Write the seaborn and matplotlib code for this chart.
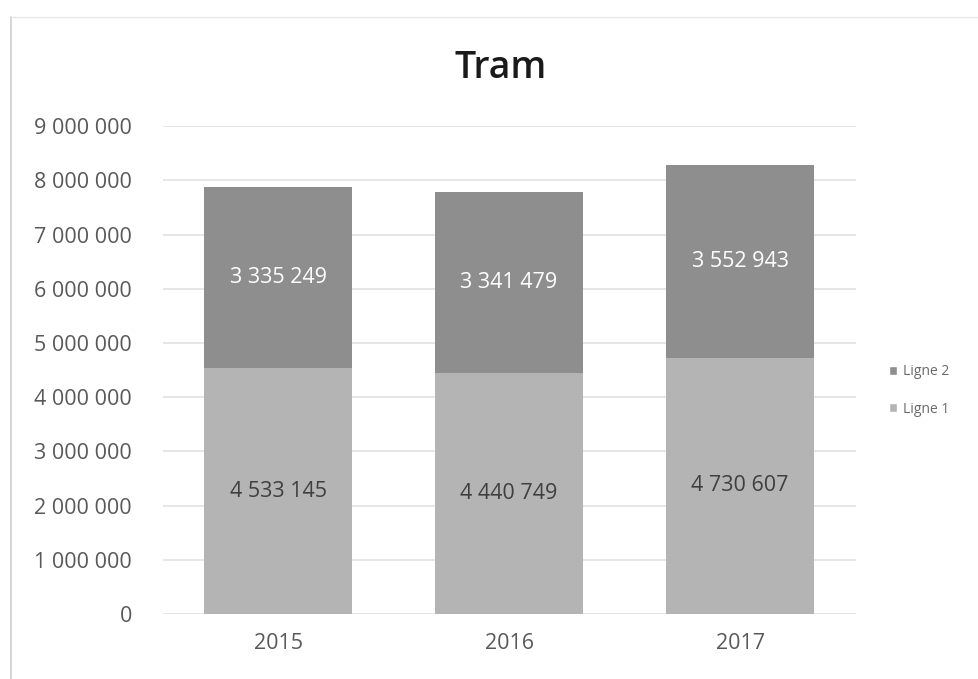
import matplotlib
matplotlib.use("Agg")
import matplotlib.pyplot as plt
import seaborn as sns
import pandas as pd
from matplotlib.patches import Patch
from matplotlib.ticker import FuncFormatter

years = ["2015", "2016", "2017"]
ligne1 = [4533145, 4440749, 4730607]
ligne2 = [3335249, 3341479, 3552943]
series_names = ["Ligne 1", "Ligne 2"]
yticks = list(range(0, 9000001, 1000000))

df = pd.DataFrame({"year": years, "Ligne 1": ligne1, "Ligne 2": ligne2})
df["total"] = df["Ligne 1"] + df["Ligne 2"]

sns.set_theme(style="white")
plt.rcParams["font.family"] = ["Open Sans", "DejaVu Sans"]

c1 = "#b4b4b4"
c2 = "#8e8e8e"

fig = plt.figure(figsize=(9.79, 6.79), dpi=100)
ax = fig.add_axes([0.166, 0.0957, 0.708, 0.7186])

def fmt(v, _=None):
    return f"{int(v):,}".replace(",", " ")

# stacked bars: full height in the top colour, bottom segment drawn over it
sns.barplot(data=df, x="year", y="total", color=c2, saturation=1, width=0.64,
            linewidth=0, edgecolor="none", ax=ax, zorder=2)
sns.barplot(data=df, x="year", y="Ligne 1", color=c1, saturation=1, width=0.64,
            linewidth=0, edgecolor="none", ax=ax, zorder=3)

for i, (a, b) in enumerate(zip(ligne1, ligne2)):
    ax.text(i, a / 2, fmt(a), ha="center", va="center", fontsize=15.5,
            color="#3f3f3f", zorder=4)
    ax.text(i, a + b / 2, fmt(b), ha="center", va="center", fontsize=15.5,
            color="white", zorder=4)

ax.set_ylim(0, 9000000)
ax.set_xlim(-0.5, 2.5)
ax.set_yticks(yticks)
ax.yaxis.set_major_formatter(FuncFormatter(fmt))
ax.grid(axis="y", color="#e2e2e2", linewidth=1.2, zorder=0)
ax.set_axisbelow(True)
for s in ax.spines.values():
    s.set_visible(False)
ax.tick_params(axis="y", labelsize=15.5, colors="#595959", pad=22, length=0)
ax.tick_params(axis="x", labelsize=15.5, colors="#595959", pad=14, length=0)
ax.set_xlabel("")
ax.set_ylabel("")

fig.text(0.511, 0.9, "Tram", ha="center", va="center", fontsize=27,
         color="#1a1a1a", fontweight="semibold")

handles = [Patch(facecolor=c2, label="Ligne 2"), Patch(facecolor=c1, label="Ligne 1")]
fig.legend(handles=handles, loc="center left", bbox_to_anchor=(0.895, 0.425),
           frameon=False, fontsize=10, labelcolor="#6a6a6a", handlelength=0.6,
           handleheight=0.6, handletextpad=0.4, labelspacing=1.6)

# light outer frame of the chart area
fig.add_artist(plt.Line2D([0.011, 0.011], [0.0, 0.975], color="#d0d0d0", lw=1.2,
                          transform=fig.transFigure))
fig.add_artist(plt.Line2D([0.011, 1.0], [0.975, 0.975], color="#e6e6e6", lw=1.0,
                          transform=fig.transFigure))

fig.savefig("out.png", dpi=100, facecolor="white")
